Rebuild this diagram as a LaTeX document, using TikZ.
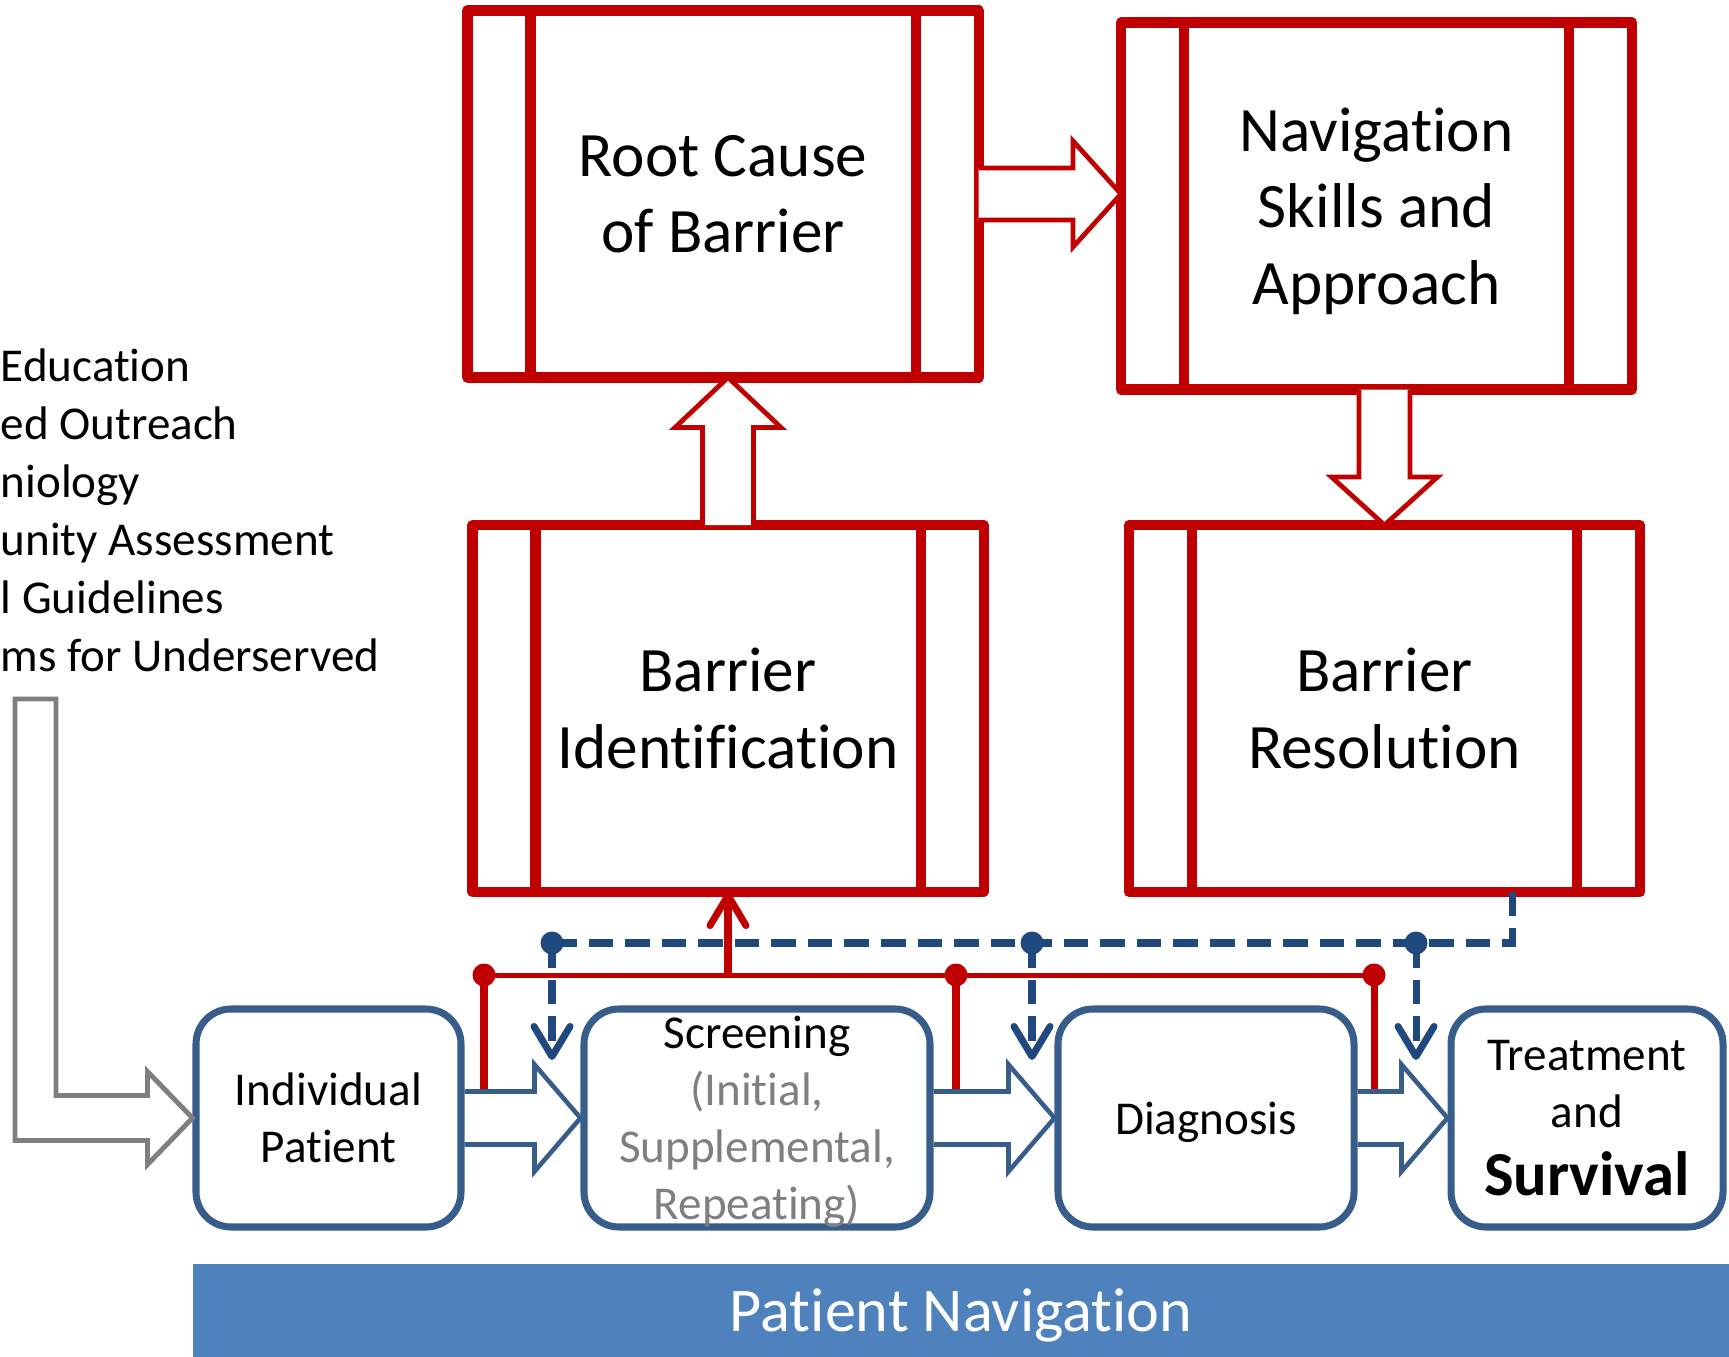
\documentclass[tikz,border=0pt]{standalone}
\usepackage{fontspec}
\setmainfont[Ligatures=NoCommon]{Carlito}
\usepackage{tikz}
\usetikzlibrary{arrows.meta, positioning, calc}
\definecolor{barred}{RGB}{192,0,0}
\definecolor{boxblue}{RGB}{56,93,138}
\definecolor{dashblue}{RGB}{31,73,125}
\definecolor{barblue}{RGB}{79,129,189}
\definecolor{midgray}{RGB}{127,127,127}

\begin{document}
\begin{tikzpicture}[
	redbox/.style={draw=barred, line width=2.85pt, line join=round, minimum width=5.11cm, minimum height=3.67cm, outer sep=0pt, inner sep=0pt, align=center, text depth=0pt, font=\fontsize{18}{21.8}\selectfont},
	bluebox/.style={draw=boxblue, line width=2pt, rounded corners=0.35cm, minimum height=2.18cm, inner sep=0pt, align=center, text depth=0pt, font=\fontsize{13.4}{16.2}\selectfont},
	blkred/.style={draw=barred, line width=1.35pt, fill=white},
	blkblue/.style={draw=boxblue, line width=1.3pt},
	blkgray/.style={draw=midgray, line width=1.4pt},
	redlink/.style={barred, line width=2pt},
	bluelink/.style={dashblue, line width=2pt, dash pattern=on 7pt off 3.4pt},
	tip/.style={-{Straight Barb[length=3mm, width=3.6mm, round]}}]
		\useasboundingbox (0,0) rectangle (17.29,-13.57);
		\node[redbox] (rc) at (7.23,-1.94) {Root Cause\\of Barrier};
		\node[redbox] (nav) at (13.765,-2.06) {Navigation\\Skills and\\Approach};
		\node[redbox] (bid) at (7.28,-7.085) {Barrier\\Identification};
		\node[redbox] (bres) at (13.845,-7.085) {Barrier\\Resolution};
		\foreach \nm in {rc,nav,bid,bres}
			\draw[barred, line width=2.85pt] ([xshift=0.63cm]\nm.north west) -- ([xshift=0.63cm]\nm.south west)
				([xshift=-0.63cm]\nm.north east) -- ([xshift=-0.63cm]\nm.south east);
		\node[anchor=west, align=left, inner sep=0pt, font=\fontsize{13.4}{16.5}\selectfont] (lst) at (0,-5.10) {Education\\ed Outreach\\niology\\unity Assessment\\l Guidelines\\ms for Underserved};
		\node[bluebox, minimum width=2.65cm] (ind) at (3.285,-11.18) {Individual\\Patient};
		\node[bluebox, minimum width=3.46cm] (scr) at (7.57,-11.18) {Screening\\\textcolor{midgray}{(Initial,}\\\textcolor{midgray}{Supplemental,}\\\textcolor{midgray}{Repeating)}};
		\node[bluebox, minimum width=2.96cm] (diag) at (12.06,-11.18) {Diagnosis};
		\node[bluebox, minimum width=2.72cm] (treat) at (15.87,-11.18) {Treatment\\and\\[3pt]{\fontsize{17.8}{20}\selectfont\bfseries Survival}};
		\node[fill=barblue, minimum width=15.36cm, minimum height=0.93cm, inner sep=0pt, text depth=0pt, text=white, font=\fontsize{17.7}{20}\selectfont] (pn) at (9.61,-13.105) {Patient Navigation};
		\draw[blkgray] (ind.west) -- ++(-0.45,0.465) -- ++(0,-0.24) -| (0.56,-6.99) -- (0.15,-6.99) |- ($(ind.west)+(-0.45,-0.225)$) -- ++(0,-0.24) -- cycle;
		\foreach \src/\dst in {ind/scr,scr/diag,diag/treat}
			\draw[blkblue] ($(\src.east |- \dst.west)+(0,0.265)$) -| ($(\dst.west)+(-0.46,0.535)$) -- (\dst.west) -- ++(-0.46,-0.535) |- ($(\src.east |- \dst.west)+(0,-0.265)$);
		\draw[blkred] ($(bid.north)+(-0.255,0)$) |- ($(bid.north |- rc.south)+(-0.53,-0.5)$) -- (bid.north |- rc.south) -- ++(0.53,-0.5) -| ($(bid.north)+(0.255,0)$);
		\draw[blkred] ($(rc.east)+(0,0.26)$) -| ($(rc.east -| nav.west)+(-0.48,0.53)$) -- (rc.east -| nav.west) -- ++(-0.48,-0.53) |- ($(rc.east)+(0,-0.26)$);
		\draw[blkred] ($(nav.south -| bres.north)+(0.255,0)$) |- ($(bres.north)+(0.53,0.48)$) -- (bres.north) -- ++(-0.53,0.48) -| ($(nav.south -| bres.north)+(-0.255,0)$);
		\coordinate (r1) at (4.84,-9.75);
		\coordinate (r2) at (9.56,-9.75);
		\coordinate (r3) at (13.74,-9.75);
		\draw[redlink, line width=1.42pt] (r1) -- (r3);
		\foreach \r in {r1,r2,r3} {
			\fill[barred] (\r) circle (0.115);
			\draw[redlink] (\r) -- ($(\r |- scr.west)+(0,0.29)$);
		}
		\draw[redlink, tip] (bid.south |- r1) -- (bid.south);
		\coordinate (b1) at (5.52,-9.43);
		\coordinate (b2) at (10.32,-9.43);
		\coordinate (b3) at (14.16,-9.43);
		\coordinate (b4) at (15.12,-9.43);
		\coordinate (lvl) at (0,-10.6);
		\draw[bluelink] (b1) -- (b4) -- (b4 |- bres.south);
		\foreach \dt in {b1,b2,b3} {
			\fill[dashblue] (\dt) circle (0.115);
			\draw[bluelink, tip] (\dt) -- (\dt |- lvl);
		}
	\end{tikzpicture}
\end{document}
